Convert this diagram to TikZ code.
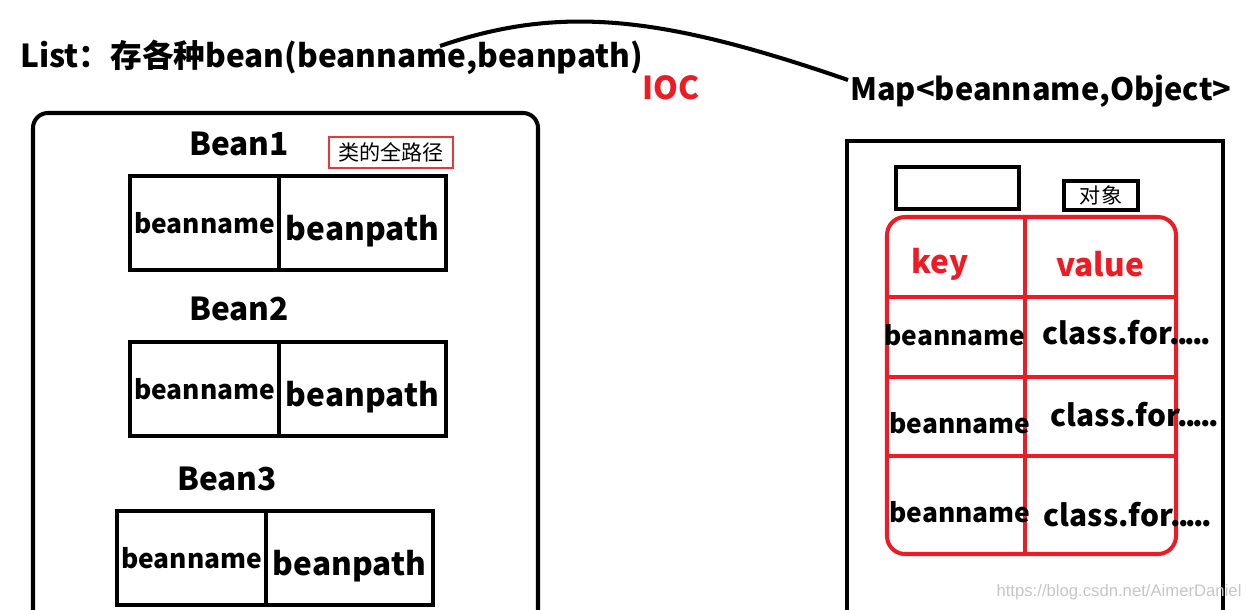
\documentclass[tikz,border=0pt]{standalone}
\usepackage{fontspec}
\setmainfont{Noto Sans CJK SC}
\newfontfamily\wmfont{Liberation Sans}
\usetikzlibrary{positioning}
\definecolor{ink}{HTML}{ED1C24}
\definecolor{tagred}{HTML}{E8373A}
\newcommand\dotrow{.\kern-1.5pt.\kern-1.5pt.\kern-1.5pt.\kern-1.5pt.}

\begin{document}
\begin{tikzpicture}[x=0.02cm,y=-0.02cm,
		lbl/.style={inner sep=0pt,font=\bfseries\fontsize{18}{18}\selectfont},
		small/.style={inner sep=0pt,font=\bfseries\fontsize{15}{15}\selectfont},
		frame/.style={line width=2.3pt},
		cell/.style={draw,line width=2.3pt,outer sep=0pt,inner sep=0pt,minimum height=1.88cm},
		namecell/.style={cell,minimum width=2.98cm,font=\bfseries\fontsize{15}{15}\selectfont},
		pathcell/.style={cell,minimum width=3.34cm,text height=20pt,text depth=0pt,font=\bfseries\fontsize{18}{18}\selectfont},
		note/.style={draw,inner sep=0pt,font=\fontsize{12}{12}\selectfont},
		tbl/.style={draw=ink,line width=2.3pt}]
				\useasboundingbox (0,0) rectangle (1246,609);
				\coordinate (c1) at (440,46);%start of curve
				\coordinate (c2) at (560,5);
				\coordinate (c3) at (660,15);
				\coordinate (c4) at (848,80);%end of curve
				
				\node[lbl,anchor=base west] (title) at (20,67) {List：存各种bean(beanname,beanpath)};
				\node[lbl,text=ink] (ioc) at (671,88) {IOC};
				\node[lbl,anchor=base west,font=\bfseries\fontsize{17.5}{17.5}\selectfont] (map) at (850,100) {Map<beanname,Object>};
				\draw[line width=2.3pt] (c1) .. controls (c2) and (c3) .. (c4);
				
				% list of beans
				\draw[frame,rounded corners=0.3cm] (33,620)--(33,113)--(538,113)--(538,620);
				\node[lbl] (bean1) at (239,144) {Bean1};
				\node[lbl] (bean2) at (239,309) {Bean2};
				\node[lbl] (bean3) at (227,479) {Bean3};
				\node[note,draw=tagred,line width=1.2pt,minimum width=2.48cm,minimum height=0.62cm] (tag) at (391,152.5) {类的全路径};
				
				\node[namecell] (n1) at (204.5,223) {beanname};
				\node[pathcell,right=0pt of n1] (p1) {beanpath};
				\node[namecell] (n2) at (204.5,389) {beanname};
				\node[pathcell,right=0pt of n2] (p2) {beanpath};
				\node[namecell] (n3) at (191.5,558) {beanname};
				\node[pathcell,right=0pt of n3] (p3) {beanpath};
				
				% map
				\draw[frame] (847,620)--(847,141)--(1223,141)--(1223,620);
				\node[draw,line width=1.8pt,minimum width=2.46cm,minimum height=0.84cm] (keybox) at (957.5,188) {};
				\node[note,line width=1.8pt,minimum width=1.48cm,minimum height=0.58cm] (objbox) at (1101,195.5) {对象};
				
				\draw[tbl,rounded corners=0.36cm] (887,217) rectangle (1176,554);
				\draw[tbl] (1025,217)--(1025,554);
				\foreach \y in {297,377,456}
					\draw[tbl] (887,\y)--(1176,\y);
				
				\node[lbl,text=ink] (key) at (940,264) {key};
				\node[lbl,text=ink] (value) at (1100,264) {value};
				\node[small] (k1) at (955,335) {beanname};
				\node[lbl,font=\bfseries\fontsize{17}{17}\selectfont] (v1) at (1127,333) {class.for\dotrow};
				\node[small] (k2) at (960,423) {beanname};
				\node[lbl,font=\bfseries\fontsize{17}{17}\selectfont] (v2) at (1135,415) {class.for\dotrow};
				\node[small] (k3) at (960,512) {beanname};
				\node[lbl,font=\bfseries\fontsize{17}{17}\selectfont] (v3) at (1128,515) {class.for\dotrow};
				
				\node[font=\wmfont\fontsize{9.5}{9.5}\selectfont,text=gray!45] (wm) at (1119,592) {https://blog.csdn.net/AimerDaniel};
			\end{tikzpicture}
\end{document}
